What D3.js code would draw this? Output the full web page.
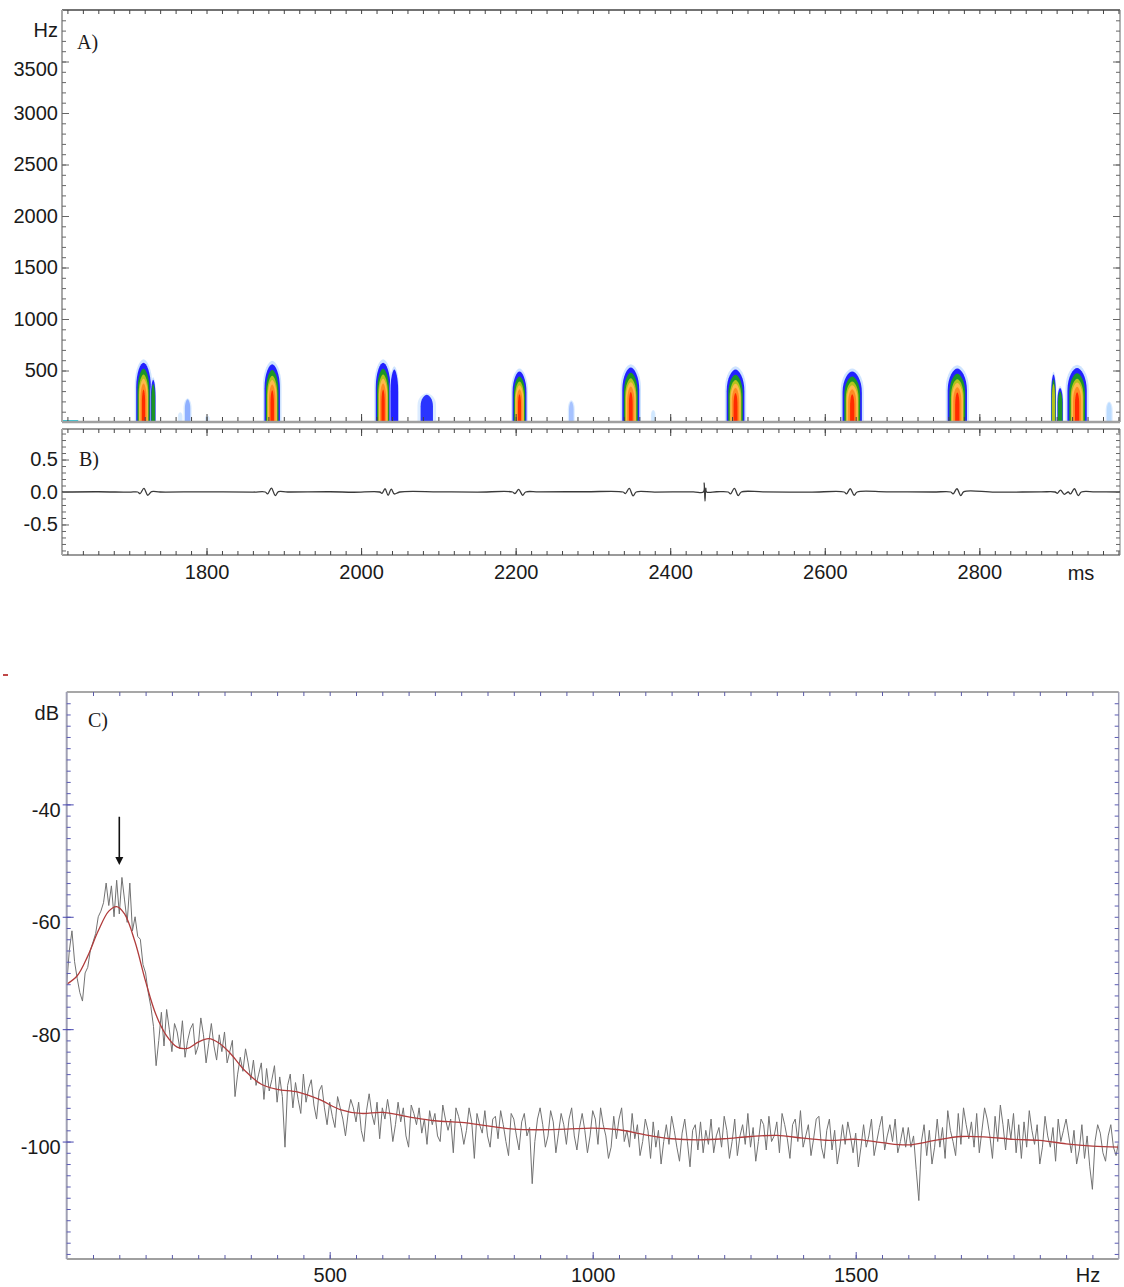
<!DOCTYPE html>
<html>
<head>
<meta charset="utf-8">
<script src="https://cdn.jsdelivr.net/npm/d3@7"></script>
<style>
  body { margin: 0; background: #fff; }
  svg text { font-family: "Liberation Sans", Arial, sans-serif; fill: #1a1a1a; }
  svg text.panel { font-family: "Liberation Serif", "Times New Roman", serif; }
</style>
</head>
<body>
<div id="chart"></div>
<script>

// ---------- data: panel A (spectrogram calls) ----------
const timeDomain = [1613, 2982];            // ms
const hzMajor = [500, 1000, 1500, 2000, 2500, 3000, 3500];
const msMajor = [1800, 2000, 2200, 2400, 2600, 2800];

// each call: onset, offset (ms), top frequency (Hz), how many colour layers show
const callStart = [1709, 1728, 1875, 2019, 2038, 2196, 2338, 2473, 2623, 2759, 2893, 2901, 2914];
const callEnd   = [1728, 1734, 1895, 2038, 2048, 2214, 2360, 2496, 2648, 2784, 2899, 2908, 2939];
const callTop   = [575, 410, 560, 575, 510, 490, 530, 510, 490, 520, 460, 330, 525];
const callLevel = [6, 2, 6, 6, 1, 6, 6, 6, 6, 6, 3, 2, 6];

// faint noise blobs in the spectrogram
const faintStart = [1764, 1772, 1799, 2077, 2269, 2376, 2965];
const faintEnd   = [1768, 1779, 1803, 2093, 2275, 2380, 2971];
const faintTop   = [90, 220, 60, 265, 200, 110, 190];
const faintTone  = ["#d6eaff", "#8fb0ff", "#e2f0ff", "#2a36ff", "#a6c2ff", "#d0e8ff", "#bcdcff"];

// ---------- data: panel B (waveform) ----------
const waveT = [1613, 1660, 1700, 1711, 1714, 1719, 1724, 1729, 1740, 1800, 1860, 1876, 1879, 1884, 1889, 1893, 1905,
  1960, 1990, 2024, 2027, 2031, 2035, 2039, 2043, 2050, 2100, 2150, 2196, 2199, 2204, 2209, 2213, 2230, 2290,
  2339, 2342, 2347, 2352, 2356, 2380, 2430, 2443, 2444, 2445, 2446, 2447, 2460, 2475, 2478, 2483, 2488, 2492,
  2520, 2580, 2625, 2628, 2633, 2638, 2642, 2680, 2740, 2763, 2766, 2771, 2776, 2780, 2820, 2880, 2898, 2901,
  2905, 2910, 2915, 2918, 2923, 2928, 2932, 2950, 2982];
const waveV = [0, 0.004, -0.003, 0, -0.025, 0.055, -0.05, 0.005, 0, 0.003, -0.002, 0, -0.03, 0.06, -0.055, 0.005, 0,
  0.004, -0.004, 0, -0.02, 0.05, -0.05, 0.045, -0.03, 0, 0.003, -0.002, 0, -0.025, 0.04, -0.05, 0, 0.002, 0.004,
  0, -0.025, 0.055, -0.06, 0, -0.002, 0.003, 0, 0.14, -0.14, 0.06, 0, 0.004, 0, -0.03, 0.055, -0.055, 0,
  0.003, -0.003, 0, -0.03, 0.05, -0.05, 0, 0.003, 0, 0, -0.03, 0.05, -0.055, 0.005, -0.003, 0.002, 0, -0.02,
  0.03, -0.035, 0, -0.03, 0.05, -0.055, 0, 0.003, 0];
const ampMajor = [-0.5, 0, 0.5];

// ---------- data: panel C (power spectrum) ----------
const specStep = 5; // Hz between samples, starting at 0 Hz
const specDb = [
  -72, -66, -62.5, -68, -71, -73.5, -75, -70, -69, -66, -64.5, -63, -60, -59, -57.5, -54, -58, -54.5, -60, -53.5,
  -59.5, -53, -57, -61, -54, -62.5, -60, -63.5, -64, -68.5, -70, -73.5, -76, -79.5, -86.5, -82, -77, -83, -76.5, -80,
  -84, -79, -80.5, -83.5, -78.5, -85, -82, -80, -79, -84.5, -83, -78, -81, -86, -82.5, -79, -83, -85.5, -81, -84,
  -80.5, -86, -84, -82, -92, -88, -85, -87.5, -83.5, -86, -89, -85.5, -90, -88, -86, -92.5, -87, -91, -89, -86.5,
  -93, -88.5, -92, -101, -90, -88, -94, -89.5, -92.5, -95, -88, -93, -90.5, -89, -93.5, -96, -91, -90, -94, -97,
  -93, -95.5, -97.5, -92, -94, -96, -99, -95, -92.5, -94, -96.5, -93, -98, -100, -94.5, -91.5, -95, -97, -93, -99.5,
  -94, -96, -92.5, -95.5, -100, -97, -93, -96.5, -94, -99, -101, -93.5, -95, -97, -94, -98.5, -96, -100.5, -94.5, -97,
  -95, -99, -100, -93.5, -96, -98, -96, -102, -94, -95.5, -97.5, -100.5, -98, -94, -96.5, -103, -95, -97, -98.5, -94.5,
  -99, -101, -96, -95.5, -99.5, -94.5, -97, -100, -102.5, -95, -96, -99, -101.5, -96.5, -95, -99, -97.5, -107.5, -100, -96,
  -94, -97, -101, -99, -94.5, -96.5, -102, -98.5, -95, -97, -100.5, -96, -94, -99, -101.5, -97.5, -95, -98, -102, -99,
  -94.5, -96, -100.5, -94, -97, -99, -103, -101, -95.5, -99.5, -96, -94, -100, -98, -101, -95, -99.5, -97, -102.5, -100,
  -96, -98, -103, -96.5, -101, -98, -104, -100, -97, -100.5, -95.5, -98, -101, -103.5, -98.5, -96, -100, -104.5, -98, -97,
  -101.5, -96.5, -102, -98, -100.5, -96, -102, -99, -97.5, -101, -95.5, -98, -103, -100, -96, -102.5, -99, -97, -100.5, -95,
  -101, -97.5, -103.5, -100, -96, -97, -101.5, -95.5, -100, -99, -96.5, -102, -95, -97, -99.5, -103, -97, -96, -100, -94.5,
  -101, -99, -97, -102.5, -99.5, -96, -95.5, -101, -103, -98, -96, -101.5, -98, -104, -101, -97, -100.5, -96.5, -99, -102,
  -98.5, -104.5, -101, -97, -101, -99, -96, -102.5, -100, -97.5, -95.5, -101.5, -99, -97, -100, -96, -102, -100, -97.5, -101,
  -97.5, -101, -99, -105, -110.5, -100, -97, -102.5, -98, -104, -101, -96, -101, -97.5, -103, -94.5, -98, -100, -102.5, -95,
  -100.5, -94, -97, -99.5, -96.5, -101, -95, -102, -98, -94, -96, -99, -103, -95.5, -100, -93.5, -97, -101.5, -96, -99.5,
  -95, -102, -97, -103, -96.5, -101, -94.5, -98, -100.5, -97, -104, -101, -95.5, -99, -101, -97.5, -103.5, -96, -100, -98,
  -96, -99, -102, -98, -104, -101.5, -97, -103, -99, -104.5, -108.5, -100, -97, -98.5, -102, -103.5, -99, -97, -101, -102.5,
  -100
];
// smoothed envelope
const smoothHz = [0, 20, 40, 60, 80, 95, 110, 130, 150, 170, 190, 210, 230, 250, 270, 290, 310, 340, 370, 400, 440,
  480, 520, 560, 600, 650, 700, 750, 800, 850, 900, 950, 1000, 1050, 1100, 1150, 1200, 1250, 1300, 1350, 1400,
  1450, 1500, 1550, 1600, 1650, 1700, 1750, 1800, 1850, 1900, 1950, 2000];
const smoothDb = [-72, -70.5, -67, -62.5, -59, -58.2, -59.5, -64.5, -71.5, -77.5, -81.2, -83.2, -83.4, -82.3, -81.7,
  -82.5, -84.2, -87.5, -89.8, -90.7, -91.2, -92.5, -94.3, -95, -94.8, -95.6, -96.3, -96.6, -97.2, -97.8, -97.9,
  -97.8, -97.6, -97.9, -98.8, -99.5, -99.7, -99.5, -99.1, -98.9, -99.4, -99.8, -99.6, -100.2, -100.6, -99.8, -99.1,
  -99.2, -99.6, -99.8, -100.4, -100.8, -101];
const dbMajor = [-100, -80, -60, -40];
const hzMajorC = [500, 1000, 1500];
const arrowHz = 100, arrowFromDb = -42.2, arrowToDb = -50.8;

// ---------- layout ----------
const svg = d3.select("#chart").append("svg")
  .attr("width", 1124).attr("height", 1287);

const A = {left: 62, right: 1120, top: 10, bottom: 422};
const B = {left: 62, right: 1120, top: 429, bottom: 555};
const C = {left: 66.7, right: 1118.7, top: 692, bottom: 1259};

const xT = d3.scaleLinear().domain(timeDomain).range([A.left, A.right]);
const yA = d3.scaleLinear().domain([0, 4000]).range([A.bottom, A.top]);
const yB = d3.scaleLinear().domain([-0.97, 0.97]).range([B.bottom, B.top]);
const xC = d3.scaleLinear().domain([0, 2000]).range([C.left, C.right]);
const yC = d3.scaleLinear().domain([-120.9, -20]).range([C.bottom, C.top]);

const defs = svg.append("defs");
function clip(id, p) {
  defs.append("clipPath").attr("id", id).append("rect")
    .attr("x", p.left).attr("y", p.top)
    .attr("width", p.right - p.left).attr("height", p.bottom - p.top);
}
clip("clipA", A); clip("clipB", B); clip("clipC", C);
defs.append("filter").attr("id", "soft")
  .append("feGaussianBlur").attr("stdDeviation", 0.6);

// small helper: draw an axis with no domain line, only ticks
function ticks(g, axis, color, width) {
  g.call(axis);
  g.select(".domain").remove();
  g.selectAll(".tick line").attr("stroke", color).attr("stroke-width", width || 1);
  g.selectAll(".tick text").attr("font-size", 20).attr("fill", "#1a1a1a");
  return g;
}
const minorT = d3.range(1620, 2982, 20);

// ================= PANEL A =================
const gA = svg.append("g").attr("clip-path", "url(#clipA)")
  .append("g").attr("filter", "url(#soft)");

// arch shaped blob between t0,t1 reaching up to top Hz
function archPath(t0, t1, top, inset, hFrac) {
  let x0 = xT(t0), x1 = xT(t1);
  const w = x1 - x0;
  x0 += w * inset; x1 -= w * inset;
  const base = yA(0);
  const yt = yA(top * hFrac);
  const sh = yt + (base - yt) * 0.42;
  const xm = (x0 + x1) / 2;
  const p = d3.path();
  p.moveTo(x0, base);
  p.lineTo(x0, sh);
  p.bezierCurveTo(x0, yt + (sh - yt) * 0.35, xm - (x1 - x0) * 0.18, yt, xm, yt);
  p.bezierCurveTo(xm + (x1 - x0) * 0.18, yt, x1, yt + (sh - yt) * 0.35, x1, sh);
  p.lineTo(x1, base);
  p.closePath();
  return p.toString();
}

const layers = [
  {c: "#cfe4ff", inset: -0.1, h: 1.06},
  {c: "#2222ff", inset: 0, h: 1.0},
  {c: "#1d9628", inset: 0.09, h: 0.9},
  {c: "#b2c41c", inset: 0.17, h: 0.8},
  {c: "#ffb94c", inset: 0.21, h: 0.73},
  {c: "#ff8a22", inset: 0.29, h: 0.65},
  {c: "#ff2a00", inset: 0.39, h: 0.55}
];

faintStart.forEach((t0, i) => {
  gA.append("path")
    .attr("d", archPath(t0, faintEnd[i], faintTop[i], -0.25, 1.05))
    .attr("fill", "#dcecff");
  gA.append("path")
    .attr("d", archPath(t0, faintEnd[i], faintTop[i], 0, 1))
    .attr("fill", faintTone[i]);
});

callStart.forEach((t0, i) => {
  layers.slice(0, callLevel[i] + 1).forEach(l => {
    gA.append("path")
      .attr("d", archPath(t0, callEnd[i], callTop[i], l.inset, l.h))
      .attr("fill", l.c);
  });
});

// cyan floor line at the very start
svg.append("line")
  .attr("x1", xT(1613)).attr("x2", xT(1634))
  .attr("y1", yA(0) - 1).attr("y2", yA(0) - 1)
  .attr("stroke", "#30c8d8").attr("stroke-width", 2);

// frame A
svg.append("line").attr("x1", A.left).attr("x2", A.right).attr("y1", A.top).attr("y2", A.top)
  .attr("stroke", "#444").attr("stroke-width", 1.5);
svg.append("line").attr("x1", A.right).attr("x2", A.right).attr("y1", A.top).attr("y2", A.bottom)
  .attr("stroke", "#999").attr("stroke-width", 1.5);
svg.append("line").attr("x1", A.left).attr("x2", A.right).attr("y1", A.bottom).attr("y2", A.bottom)
  .attr("stroke", "#a0a0a0").attr("stroke-width", 2.5);
svg.append("line").attr("x1", A.left).attr("x2", A.left).attr("y1", A.top).attr("y2", A.bottom)
  .attr("stroke", "#a8a8a8").attr("stroke-width", 2);

// ticks A
ticks(svg.append("g").attr("transform", `translate(0,${A.top})`),
  d3.axisBottom(xT).tickValues(minorT).tickSize(4).tickFormat(""), "#444");
ticks(svg.append("g").attr("transform", `translate(0,${A.bottom - 1})`),
  d3.axisTop(xT).tickValues(minorT).tickSize(4).tickFormat(""), "#444");
ticks(svg.append("g").attr("transform", `translate(0,${A.bottom - 1})`),
  d3.axisTop(xT).tickValues(msMajor).tickSize(7).tickFormat(""), "#444");
ticks(svg.append("g").attr("transform", `translate(${A.left},0)`),
  d3.axisLeft(yA).tickValues(d3.range(100, 4000, 100)).tickSize(-4).tickFormat(""), "#666");
const aLab = ticks(svg.append("g").attr("transform", `translate(${A.left},0)`),
  d3.axisLeft(yA).tickValues(hzMajor).tickSize(-7).tickPadding(4).tickFormat(d3.format("d")), "#666");
aLab.selectAll(".tick text").attr("dy", d => d === 3500 ? "0.7em" : "0.32em");
ticks(svg.append("g").attr("transform", `translate(${A.right},0)`),
  d3.axisRight(yA).tickValues(d3.range(100, 4000, 100)).tickSize(-4).tickFormat(""), "#666");
ticks(svg.append("g").attr("transform", `translate(${A.right},0)`),
  d3.axisRight(yA).tickValues(hzMajor).tickSize(-7).tickFormat(""), "#666");

svg.append("text").attr("x", 58).attr("y", 37).attr("text-anchor", "end")
  .attr("font-size", 20).text("Hz");
svg.append("text").attr("class", "panel").attr("x", 77).attr("y", 49)
  .attr("font-size", 20).text("A)");

// ================= PANEL B =================
svg.append("line").attr("x1", B.left).attr("x2", B.right).attr("y1", B.top).attr("y2", B.top)
  .attr("stroke", "#9a9a9a").attr("stroke-width", 2);
svg.append("line").attr("x1", B.left).attr("x2", B.right).attr("y1", B.bottom).attr("y2", B.bottom)
  .attr("stroke", "#9a9a9a").attr("stroke-width", 2);
svg.append("line").attr("x1", B.left).attr("x2", B.left).attr("y1", B.top).attr("y2", B.bottom)
  .attr("stroke", "#a8a8a8").attr("stroke-width", 2);
svg.append("line").attr("x1", B.right).attr("x2", B.right).attr("y1", B.top).attr("y2", B.bottom)
  .attr("stroke", "#a8a8a8").attr("stroke-width", 1.5);

const wave = waveT.map((t, i) => [t, waveV[i]]);
svg.append("path").datum(wave)
  .attr("clip-path", "url(#clipB)")
  .attr("fill", "none").attr("stroke", "#3a3a3a").attr("stroke-width", 1.3)
  .attr("d", d3.line().x(d => xT(d[0])).y(d => yB(d[1])).curve(d3.curveCatmullRom));

ticks(svg.append("g").attr("transform", `translate(0,${B.top})`),
  d3.axisBottom(xT).tickValues(minorT).tickSize(4).tickFormat(""), "#444");
ticks(svg.append("g").attr("transform", `translate(0,${B.top})`),
  d3.axisBottom(xT).tickValues(msMajor).tickSize(7).tickFormat(""), "#444");
ticks(svg.append("g").attr("transform", `translate(0,${B.bottom})`),
  d3.axisTop(xT).tickValues(minorT).tickSize(4).tickFormat(""), "#444");
ticks(svg.append("g").attr("transform", `translate(0,${B.bottom})`),
  d3.axisBottom(xT).tickValues(msMajor).tickSize(-7).tickPadding(10).tickFormat(d3.format("d")), "#444");
ticks(svg.append("g").attr("transform", `translate(${B.left},0)`),
  d3.axisLeft(yB).tickValues(d3.range(-0.9, 0.95, 0.1)).tickSize(-4).tickFormat(""), "#666");
ticks(svg.append("g").attr("transform", `translate(${B.left},0)`),
  d3.axisLeft(yB).tickValues(ampMajor).tickSize(-7).tickPadding(4), "#666")
  .selectAll(".tick text").text(d => d3.format(".1f")(d).replace("\u2212", "-"));
ticks(svg.append("g").attr("transform", `translate(${B.right},0)`),
  d3.axisRight(yB).tickValues(d3.range(-0.9, 0.95, 0.1)).tickSize(-4).tickFormat(""), "#666");

svg.append("text").attr("x", 1081).attr("y", 580).attr("text-anchor", "middle")
  .attr("font-size", 20).text("ms");
svg.append("text").attr("class", "panel").attr("x", 79).attr("y", 466)
  .attr("font-size", 20).text("B)");

// ================= PANEL C =================
svg.append("rect").attr("x", 3).attr("y", 674).attr("width", 5).attr("height", 2).attr("fill", "#c04848");

const spec = specDb.map((v, i) => [i * specStep, v]);
svg.append("path").datum(spec)
  .attr("clip-path", "url(#clipC)")
  .attr("fill", "none").attr("stroke", "#727272").attr("stroke-width", 1)
  .attr("d", d3.line().x(d => xC(d[0])).y(d => yC(d[1])));

const smooth = smoothHz.map((f, i) => [f, smoothDb[i]]);
svg.append("path").datum(smooth)
  .attr("clip-path", "url(#clipC)")
  .attr("fill", "none").attr("stroke", "#b03c3c").attr("stroke-width", 1.3)
  .attr("d", d3.line().x(d => xC(d[0])).y(d => yC(d[1])).curve(d3.curveCatmullRom));

// arrow
svg.append("line").attr("x1", xC(arrowHz)).attr("x2", xC(arrowHz))
  .attr("y1", yC(arrowFromDb)).attr("y2", yC(arrowToDb) - 6)
  .attr("stroke", "#111").attr("stroke-width", 1.6);
svg.append("path")
  .attr("d", `M${xC(arrowHz) - 4},${yC(arrowToDb) - 8} L${xC(arrowHz) + 4},${yC(arrowToDb) - 8} L${xC(arrowHz)},${yC(arrowToDb)} Z`)
  .attr("fill", "#111");

// frame C
svg.append("line").attr("x1", C.left).attr("x2", C.right).attr("y1", C.top).attr("y2", C.top)
  .attr("stroke", "#8a8a8a").attr("stroke-width", 1.5);
svg.append("line").attr("x1", C.left).attr("x2", C.right).attr("y1", C.bottom).attr("y2", C.bottom)
  .attr("stroke", "#a0a0a0").attr("stroke-width", 2);
svg.append("line").attr("x1", C.left).attr("x2", C.left).attr("y1", C.top).attr("y2", C.bottom)
  .attr("stroke", "#a0a0b4").attr("stroke-width", 2);
svg.append("line").attr("x1", C.right).attr("x2", C.right).attr("y1", C.top).attr("y2", C.bottom)
  .attr("stroke", "#a0a0b4").attr("stroke-width", 1.5);

const minorHz = d3.range(50, 2000, 50);
const minorDb = d3.range(-120, -20, 2);
ticks(svg.append("g").attr("transform", `translate(0,${C.top})`),
  d3.axisBottom(xC).tickValues(minorHz).tickSize(4).tickFormat(""), "#5a5aa8");
ticks(svg.append("g").attr("transform", `translate(0,${C.bottom})`),
  d3.axisTop(xC).tickValues(minorHz).tickSize(4).tickFormat(""), "#5a5aa8");
ticks(svg.append("g").attr("transform", `translate(0,${C.bottom})`),
  d3.axisBottom(xC).tickValues(hzMajorC).tickSize(-7).tickPadding(9).tickFormat(d3.format("d")), "#5a5aa8");
ticks(svg.append("g").attr("transform", `translate(${C.left},0)`),
  d3.axisLeft(yC).tickValues(minorDb).tickSize(-4).tickFormat(""), "#5a5ab4");
const cLab = ticks(svg.append("g").attr("transform", `translate(${C.left},0)`),
  d3.axisLeft(yC).tickValues(dbMajor).tickSize(-7).tickPadding(6).tickFormat(d => String(d)), "#4848b0");
cLab.selectAll(".tick line").attr("x1", -4);
cLab.selectAll(".tick text").attr("dy", "0.6em");
ticks(svg.append("g").attr("transform", `translate(${C.right},0)`),
  d3.axisRight(yC).tickValues(minorDb).tickSize(-4).tickFormat(""), "#5a5ab4");

svg.append("text").attr("x", 1088).attr("y", 1282).attr("text-anchor", "middle")
  .attr("font-size", 20).text("Hz");
svg.append("text").attr("x", 59).attr("y", 720).attr("text-anchor", "end")
  .attr("font-size", 20).text("dB");
svg.append("text").attr("class", "panel").attr("x", 88).attr("y", 727)
  .attr("font-size", 20).text("C)");

</script>
</body>
</html>
